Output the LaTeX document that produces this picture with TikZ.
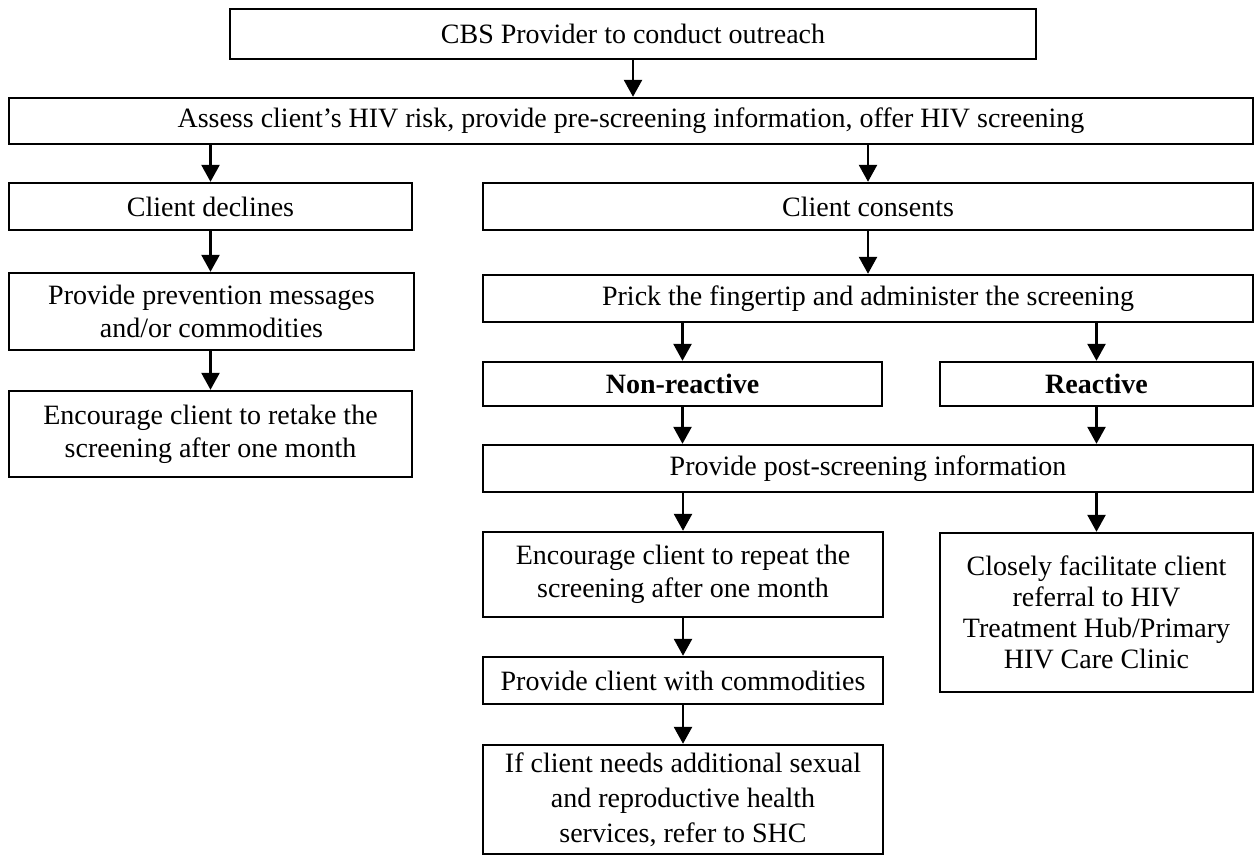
\documentclass[tikz,border=0pt]{standalone}
\usepackage{fontspec}
\setmainfont{Liberation Serif}
\usetikzlibrary{arrows.meta}
\tikzset{
  box/.style={draw=black, line width=2.4pt, align=center, inner sep=0pt,
    font=\fontsize{28}{33}\selectfont},
  boldbox/.style={box, font=\fontsize{28}{33}\selectfont\bfseries},
  arr/.style={line width=2.6pt, -{Triangle[length=17pt,width=18pt]}}
}
\begin{document}
\begin{tikzpicture}[x=1pt,y=-1pt]
\useasboundingbox (0,0) rectangle (1256,856);
\node[box, minimum width=806pt, minimum height=50pt] (top) at (633,34) {CBS Provider to conduct outreach};
\node[box, minimum width=1244pt, minimum height=46pt] (assess) at (631,121) {Assess client’s HIV risk, provide pre-screening information, offer HIV screening};
\node[box, minimum width=403pt, minimum height=47pt] (declines) at (210.5,206.5) {Client declines};
\node[box, minimum width=770pt, minimum height=47pt] (consents) at (868,206.5) {Client consents};
\node[box, minimum width=405pt, minimum height=77pt] (prevent) at (211.5,311.5) {Provide prevention messages\\and/or commodities};
\node[box, minimum width=403pt, minimum height=86pt] (retake) at (210.5,434) {Encourage client to retake the\\screening after one month};
\node[box, minimum width=770pt, minimum height=47pt] (prick) at (868,298.5) {Prick the fingertip and administer the screening};
\node[boldbox, minimum width=399pt, minimum height=44pt] (nonreact) at (682.5,384) {Non-reactive};
\node[boldbox, minimum width=313pt, minimum height=44pt] (react) at (1096.5,384) {Reactive};
\node[box, minimum width=770pt, minimum height=47pt] (post) at (868,468.5) {Provide post-screening information};
\node[box, minimum width=400pt, minimum height=85pt] (repeat) at (683,574.5) {Encourage client to repeat the\\screening after one month};
\node[box, minimum width=313pt, minimum height=159pt, font=\fontsize{28}{31}\selectfont] (closely) at (1096.5,612.5) {Closely facilitate client\\referral to HIV\\Treatment Hub/Primary\\HIV Care Clinic};
\node[box, minimum width=400pt, minimum height=47pt] (commod) at (683,680.5) {Provide client with commodities};
\node[box, minimum width=400pt, minimum height=109pt, font=\fontsize{28}{35}\selectfont] (ifclient) at (683,799.5) {If client needs additional sexual\\and reproductive health\\services, refer to SHC};
\draw[arr] (top.south) -- (assess.north -| top.south);
\draw[arr] (assess.south -| declines.north) -- (declines.north);
\draw[arr] (assess.south -| consents.north) -- (consents.north);
\draw[arr] (declines.south) -- (prevent.north -| declines.south);
\draw[arr] (prevent.south -| retake.north) -- (retake.north);
\draw[arr] (consents.south) -- (prick.north);
\draw[arr] (prick.south -| nonreact.north) -- (nonreact.north);
\draw[arr] (prick.south -| react.north) -- (react.north);
\draw[arr] (nonreact.south) -- (post.north -| nonreact.south);
\draw[arr] (react.south) -- (post.north -| react.south);
\draw[arr] (post.south -| repeat.north) -- (repeat.north);
\draw[arr] (post.south -| closely.north) -- (closely.north);
\draw[arr] (repeat.south) -- (commod.north);
\draw[arr] (commod.south) -- (ifclient.north);
\end{tikzpicture}
\end{document}
